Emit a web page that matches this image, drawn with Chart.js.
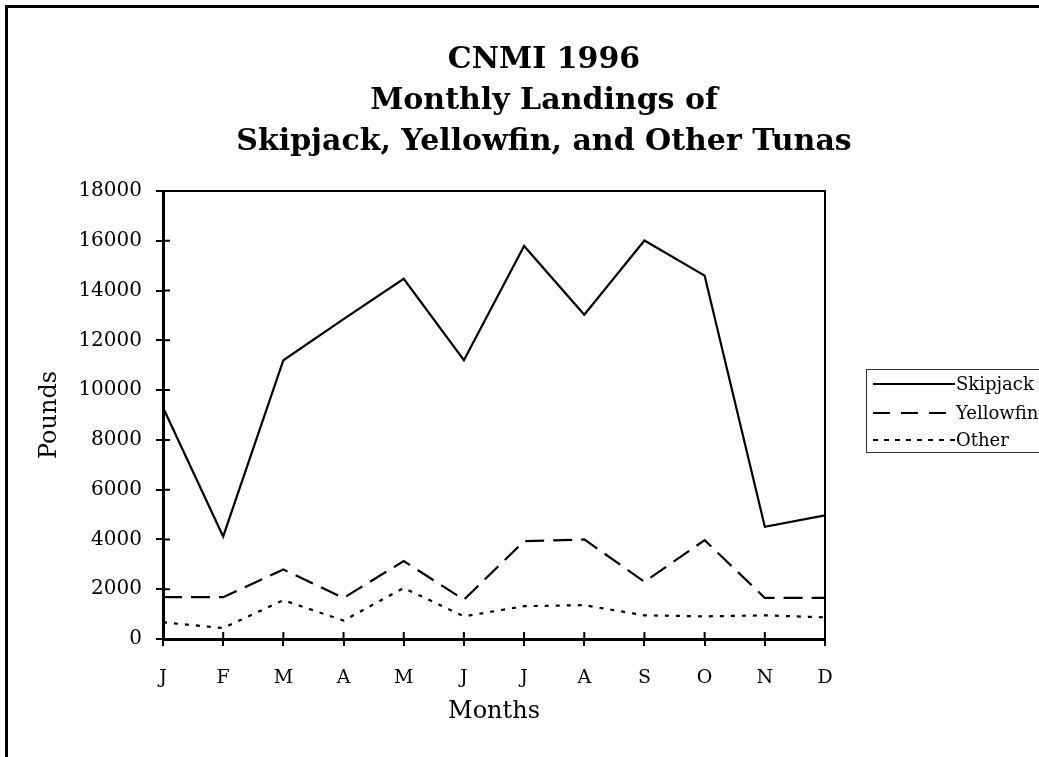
<!DOCTYPE html>
<html>
<head>
<meta charset="utf-8">
<title>CNMI 1996 Monthly Landings</title>
<script src="https://cdn.jsdelivr.net/npm/chart.js@4/dist/chart.umd.min.js"></script>
<style>
  html, body { margin: 0; padding: 0; background: #fff; }
  #wrap { position: relative; width: 1039px; height: 757px; overflow: hidden; }
  #frame {
    position: absolute; left: 5px; top: 5px; width: 1100px; height: 800px;
    border-top: 3px solid #000; border-left: 3px solid #000;
  }
  canvas { position: absolute; left: 0; top: 0; }
</style>
</head>
<body>
<div id="wrap">
  <div id="frame"></div>
  <canvas id="chart" width="1039" height="757"></canvas>
</div>
<script>
'use strict';

// ── Data ──────────────────────────────────────────────────────────────────
const MONTHS = ['J', 'F', 'M', 'A', 'M', 'J', 'J', 'A', 'S', 'O', 'N', 'D'];
const SKIPJACK = [9300, 4120, 11200, 12850, 14470, 11200, 15790, 13030, 16010, 14600, 4510, 4970];
const YELLOWFIN = [1680, 1680, 2790, 1650, 3130, 1580, 3930, 4000, 2300, 3970, 1650, 1650];
const OTHER = [670, 440, 1560, 740, 2050, 910, 1320, 1360, 950, 910, 950, 870];
const TITLE_LINES = ['CNMI 1996', 'Monthly Landings of', 'Skipjack, Yellowfin, and Other Tunas'];

const SERIF = "'DejaVu Serif', 'Liberation Serif', serif";

// title, plot box, inner half of ticks, legend
const decorations = {
    id: 'decorations',
    afterDraw(chart) {
        const { ctx, chartArea: a, scales: { x, y } } = chart;
        ctx.save();

        // title
        ctx.fillStyle = '#000';
        ctx.font = 'bold 30px ' + SERIF;
        ctx.textAlign = 'center';
        ctx.textBaseline = 'middle';
        TITLE_LINES.forEach((t, i) => ctx.fillText(t, 544, 60 + i * 41));

        // top + right edges of the plot box
        ctx.strokeStyle = '#000';
        ctx.lineWidth = 2;
        ctx.beginPath();
        ctx.moveTo(a.left, a.top);
        ctx.lineTo(a.right, a.top);
        ctx.lineTo(a.right, a.bottom);
        ctx.stroke();

        // tick marks poke a little into the plot
        ctx.beginPath();
        y.ticks.forEach(t => {
            const py = y.getPixelForValue(t.value);
            ctx.moveTo(a.left, py);
            ctx.lineTo(a.left + 7, py);
        });
        x.ticks.forEach((t, i) => {
            const px = x.getPixelForTick(i);
            ctx.moveTo(px, a.bottom);
            ctx.lineTo(px, a.bottom - 7);
        });
        ctx.stroke();

        // legend
        ctx.lineWidth = 1;
        ctx.strokeStyle = '#333';
        ctx.strokeRect(866.5, 369.5, 200, 83);
        ctx.font = '18px ' + SERIF;
        ctx.textAlign = 'left';
        ctx.fillStyle = '#000';
        const rows = [384, 413, 440];
        chart.data.datasets.forEach((ds, i) => {
            ctx.save();
            ctx.strokeStyle = '#000';
            ctx.lineWidth = ds.borderWidth;
            ctx.setLineDash(ds.legendDash);
            ctx.beginPath();
            ctx.moveTo(873, rows[i]);
            ctx.lineTo(955, rows[i]);
            ctx.stroke();
            ctx.restore();
            ctx.fillText(ds.label, 956, rows[i] + 1);
        });
        ctx.restore();
    },
};

new Chart(document.getElementById('chart'), {
    type: 'line',
    data: {
        labels: MONTHS,
        datasets: [
            { label: 'Skipjack', data: SKIPJACK, borderColor: '#000', borderWidth: 2.2, borderDash: [], legendDash: [] },
            { label: 'Yellowfin', data: YELLOWFIN, borderColor: '#000', borderWidth: 2.2, borderDash: [19, 9], legendDash: [17, 11] },
            { label: 'Other', data: OTHER, borderColor: '#000', borderWidth: 2.2, borderDash: [4, 7], legendDash: [5, 6] },
        ],
    },
    options: {
        responsive: false,
        animation: false,
        tension: 0,
        pointRadius: 0,
        layout: { padding: { left: 0, top: 191, right: 214, bottom: 0 } },
        scales: {
            x: {
                offset: false,
                grid: { drawOnChartArea: false, tickLength: 7, color: '#000', lineWidth: 2 },
                border: { color: '#000', width: 3 },
                ticks: { color: '#000', font: { family: SERIF, size: 19 }, padding: 21, maxRotation: 0, autoSkip: false },
                title: { display: true, text: 'Months', color: '#000', font: { family: SERIF, size: 24 }, padding: { bottom: 31 } },
                afterFit(s) { s.height = 757 - 639; },
            },
            y: {
                min: 0,
                max: 18000,
                grid: { drawOnChartArea: false, tickLength: 7, color: '#000', lineWidth: 2 },
                border: { color: '#000', width: 3 },
                ticks: { stepSize: 2000, color: '#000', font: { family: SERIF, size: 20 }, padding: 14, callback: v => String(v) },
                title: { display: true, text: 'Pounds', color: '#000', font: { family: SERIF, size: 24 }, padding: { top: 35 } },
                afterFit(s) { s.width = 163; },
            },
        },
        plugins: {
            legend: { display: false },
            title: { display: false },
            tooltip: { enabled: false },
        },
    },
    plugins: [decorations],
});
</script>
</body>
</html>
